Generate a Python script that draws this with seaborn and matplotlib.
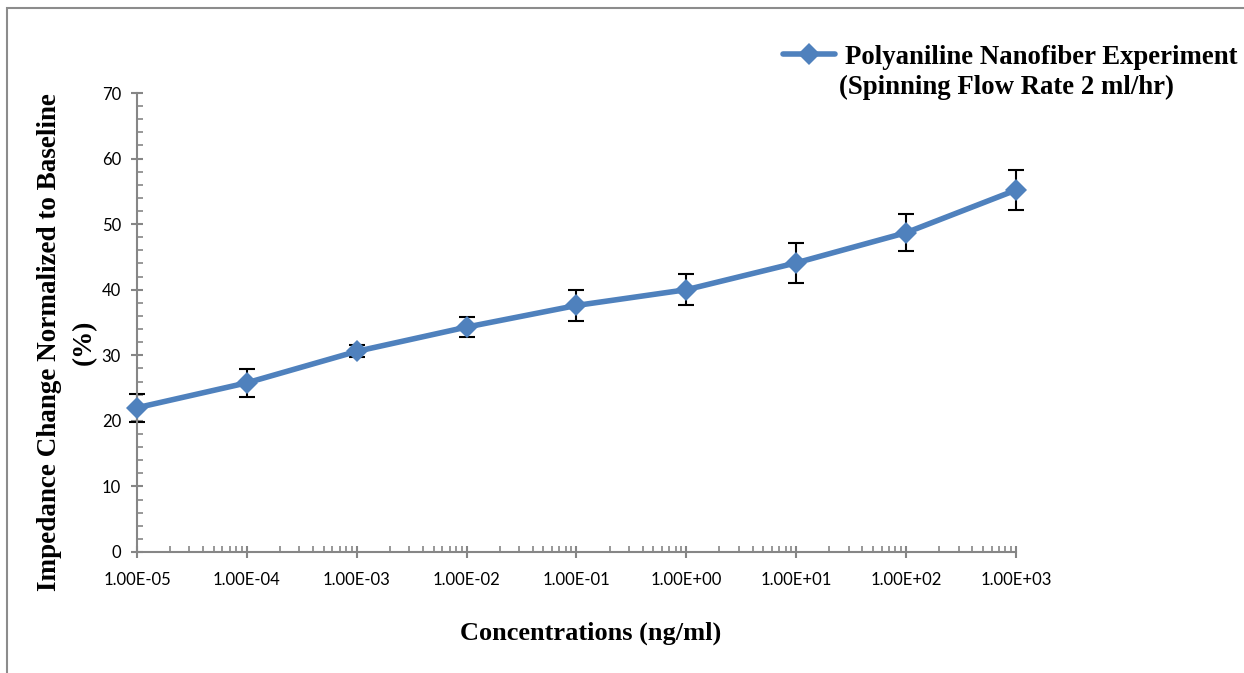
import matplotlib
matplotlib.use("Agg")
import matplotlib.pyplot as plt
from matplotlib.patches import Rectangle
from matplotlib.ticker import FixedLocator, MultipleLocator, LogLocator, NullFormatter
import seaborn as sns
import pandas as pd

# Measured response of the polyaniline nanofiber sensor
concentrations = [1e-5, 1e-4, 1e-3, 1e-2, 1e-1, 1e0, 1e1, 1e2, 1e3]
impedance_change = [22.0, 25.8, 30.6, 34.3, 37.6, 40.0, 44.1, 48.7, 55.2]
error_sd = [2.1, 2.1, 0.9, 1.5, 2.4, 2.4, 3.0, 2.8, 3.1]
x_tick_labels = ["1.00E-05", "1.00E-04", "1.00E-03", "1.00E-02", "1.00E-01",
                 "1.00E+00", "1.00E+01", "1.00E+02", "1.00E+03"]
series_label = "Polyaniline Nanofiber Experiment"
series_note = "(Spinning Flow Rate 2 ml/hr)"
x_title = "Concentrations (ng/ml)"
y_title = "Impedance Change Normalized to Baseline\n(%)"

df = pd.DataFrame({"conc": concentrations, "imp": impedance_change, "err": error_sd})

sns.set_theme(style="white")
plt.rcParams["font.family"] = ["Lato", "DejaVu Sans"]
plt.rcParams["text.color"] = "black"
plt.rcParams["axes.labelcolor"] = "black"

blue = "#4F81BD"
axis_gray = "#868686"
serif_bold = dict(family="Liberation Serif", weight="bold")

W, H = 1244, 673
fig = plt.figure(figsize=(W / 100, H / 100), dpi=100)
ax = fig.add_axes([137 / W, 1 - 552 / H, (1016 - 137) / W, (552 - 93) / H])
ax.set_xscale("log")

ax.errorbar(df["conc"], df["imp"], yerr=df["err"], fmt="none", ecolor="black",
            elinewidth=1.5, capsize=5.5, capthick=1.5, zorder=2, clip_on=False)
sns.lineplot(data=df, x="conc", y="imp", ax=ax, color=blue, linewidth=4,
             marker="D", markersize=11, markeredgewidth=0, label=series_label,
             zorder=3, clip_on=False)

ax.set_xlim(1e-5, 1e3)
ax.set_ylim(0, 70)
ax.xaxis.set_major_locator(FixedLocator(concentrations))
ax.set_xticklabels(x_tick_labels)
ax.xaxis.set_minor_locator(LogLocator(base=10, subs=range(2, 10), numticks=20))
ax.xaxis.set_minor_formatter(NullFormatter())
ax.yaxis.set_major_locator(MultipleLocator(10))
ax.yaxis.set_minor_locator(MultipleLocator(2))
ax.set_xlabel("")
ax.set_ylabel("")

for s in ["top", "right"]:
    ax.spines[s].set_visible(False)
for s in ["left", "bottom"]:
    ax.spines[s].set_color(axis_gray)
    ax.spines[s].set_linewidth(1.5)

ax.tick_params(axis="both", which="both", bottom=True, left=True)
ax.tick_params(axis="both", which="major", direction="inout", length=9, width=1.5,
               color=axis_gray, labelsize=12, labelcolor="black")
ax.tick_params(axis="x", which="major", pad=10)
ax.tick_params(axis="y", which="major", pad=7)
ax.tick_params(axis="both", which="minor", direction="in", length=4, width=1.2,
               color=axis_gray)

# axis titles
fig.text(591 / W, 1 - 633 / H, x_title, ha="center", va="center", fontsize=19, **serif_bold)
fig.text(67 / W, 1 - 342 / H, y_title, ha="center", va="center", rotation=90,
         multialignment="center", linespacing=1.5, fontsize=19.5, **serif_bold)

# legend entry, with the flow-rate note wrapped onto the next line
handles, labels = ax.get_legend_handles_labels()
leg = ax.legend(handles, labels, loc="upper left", bbox_to_anchor=(772 / W, 1 - 34 / H),
                bbox_transform=fig.transFigure, frameon=False, handlelength=1.95,
                handletextpad=0.37, borderaxespad=0,
                prop=dict(family="Liberation Serif", weight="bold", size=19.3))
for t in leg.get_texts():
    t.set_color("black")
fig.text(839 / W, 1 - 87 / H, series_note, ha="left", va="center", fontsize=19.3,
         **serif_bold)

# outer chart border
fig.patches.append(Rectangle((7 / W, -0.1), 1.2, 1.1 - 8 / H, transform=fig.transFigure,
                             fill=False, edgecolor="#8c8c8c", linewidth=1.5))

fig.savefig("out.png", dpi=100)
